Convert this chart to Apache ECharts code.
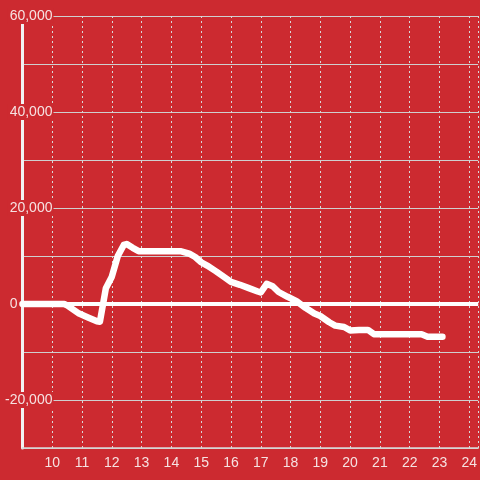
<!DOCTYPE html>
<html>
<head>
<meta charset="utf-8">
<script src="https://cdn.jsdelivr.net/npm/echarts@6/dist/echarts.min.js"></script>
<style>html,body{margin:0;padding:0;background:#cc2a30;}#c{width:480px;height:480px;}</style>
</head>
<body>
<div id="c"></div>
<script>
var hours = [9.0, 10.0, 10.4, 10.5, 10.9, 11.2, 11.5, 11.6, 11.8, 12.0, 12.2, 12.4, 12.5, 12.7, 12.9, 13.5, 14.0, 14.3, 14.6, 14.8, 15.0, 15.2, 15.5, 15.8, 16.0, 16.3, 16.6, 16.9, 17.0, 17.2, 17.4, 17.6, 17.9, 18.2, 18.5, 18.8, 19.0, 19.3, 19.5, 19.8, 20.0, 20.3, 20.6, 20.8, 21.5, 22.0, 22.4, 22.6, 23.1];
var values = [0, 0, 0, -300, -2000, -2800, -3600, -3700, 3300, 5700, 10000, 12300, 12500, 11700, 11000, 11000, 11000, 11000, 10500, 9800, 8700, 8000, 6800, 5500, 4600, 4000, 3300, 2600, 2400, 4200, 3700, 2500, 1500, 600, -800, -2000, -2500, -3800, -4500, -4800, -5500, -5400, -5400, -6300, -6300, -6300, -6300, -6800, -6800];
var yLabelValues = [60000, 40000, 20000, -20000];
var zeroLabel = '0';
var xMin = 9, xMax = 24.3;
var yMin = -30000, yMax = 60000;

var pts = hours.map(function (h, i) { return [h, values[i]]; });
var bg = '#cc2a30';
var txt = '#f6e2e2';

var chart = echarts.init(document.getElementById('c'), null, {renderer: 'canvas'});
chart.setOption({
  backgroundColor: bg,
  animation: false,
  grid: {left: 21, right: 0, top: 16, bottom: 32, containLabel: false},
  xAxis: {
    type: 'value', min: xMin, max: xMax, interval: 1,
    axisLine: {show: true, onZero: false, lineStyle: {color: '#d8d8d8', width: 1.5}},
    axisTick: {show: false},
    axisLabel: {
      color: txt, fontFamily: 'Liberation Sans, Arial, sans-serif', fontSize: 14, margin: 8,
      showMinLabel: false, showMaxLabel: false
    },
    splitLine: {show: true, lineStyle: {color: '#d8d8d8', type: [2, 3], width: 1}}
  },
  yAxis: {
    type: 'value', min: yMin, max: yMax, interval: 10000,
    axisLine: {show: true, lineStyle: {color: '#f2f2f2', width: 3}},
    axisTick: {show: false},
    axisLabel: {
      margin: -31,
      formatter: function (v) {
        if (yLabelValues.indexOf(v) >= 0) {
          return '{b|' + v.toLocaleString('en-US') + '}';
        }
        return '';
      },
      rich: {
        b: {color: txt, fontFamily: 'Liberation Sans, Arial, sans-serif', fontSize: 14,
            backgroundColor: bg, padding: [1, 1, 1, 2]}
      }
    },
    splitLine: {show: true, lineStyle: {color: '#cfcfcf', width: 1}}
  },
  series: [{
    type: 'line',
    data: pts,
    showSymbol: false,
    symbol: 'none',
    lineStyle: {color: '#ffffff', width: 6.5, cap: 'round', join: 'round'},
    z: 5,
    markLine: {
      silent: true,
      symbol: 'none',
      lineStyle: {color: '#ffffff', width: 4, type: 'solid'},
      label: {show: true, position: 'start', distance: 5, formatter: zeroLabel,
              color: txt, fontFamily: 'Liberation Sans, Arial, sans-serif', fontSize: 14},
      data: [{yAxis: 0}]
    }
  }]
});
</script>
</body>
</html>
